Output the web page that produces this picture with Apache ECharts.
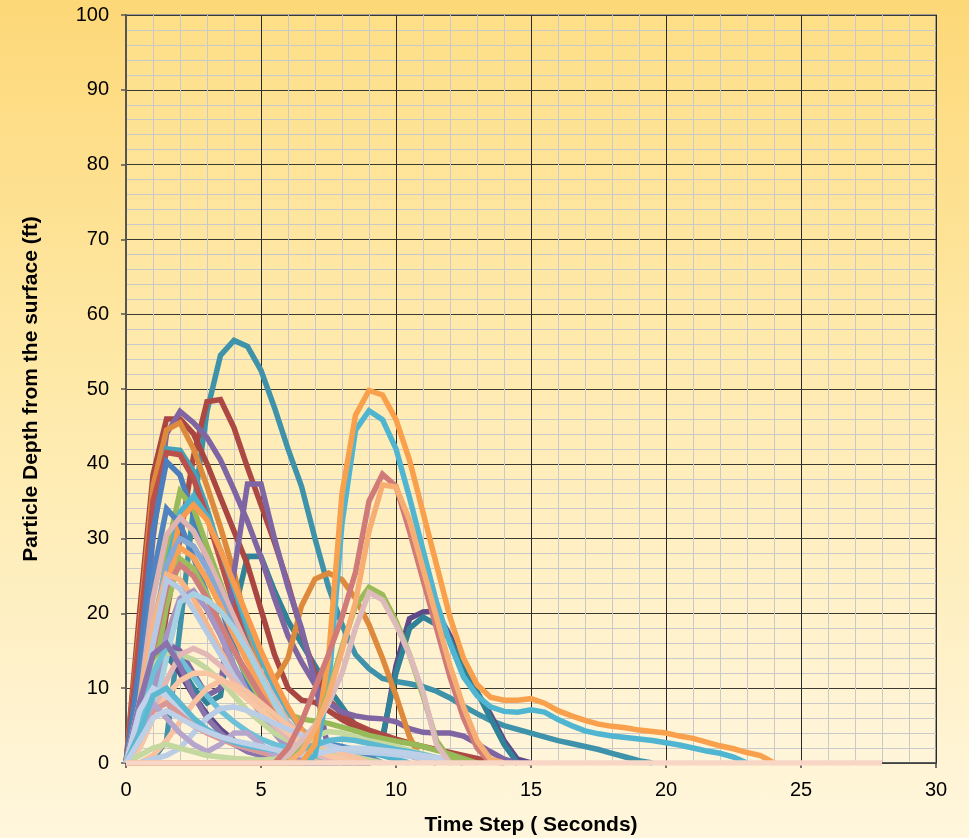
<!DOCTYPE html>
<html>
<head>
<meta charset="utf-8">
<script src="https://cdn.jsdelivr.net/npm/echarts@6/dist/echarts.min.js"></script>
<style>
html,body{margin:0;padding:0;}
#chart{width:969px;height:838px;background:linear-gradient(to bottom,#FDD878 0%,#FEE9A8 45%,#FFF6DD 100%);}
</style>
</head>
<body>
<div id="chart"></div>
<script>
// Time steps (seconds)
const timeSteps = [0,0.5,1,1.5,2,2.5,3,3.5,4,4.5,5,5.5,6,6.5,7,7.5,8,8.5,9,9.5,10,10.5,11,11.5,12,12.5,13,13.5,14,14.5,15,15.5,16,16.5,17,17.5,18,18.5,19,19.5,20,20.5,21,21.5,22,22.5,23,23.5,24,24.5,25,25.5,26,26.5,27,27.5,28];
const xTicks = [0,5,10,15,20,25,30];
const yTicks = [0,10,20,30,40,50,60,70,80,90,100];

// Particle depth series (ft), one value per time step from t = 0
const tealBig   = [0,0,0.5,3,18,34,47,54.5,56.5,55.7,52.5,47.5,42,37,30,23.5,18.5,14.5,12.6,11.3,10.9,10.6,10.2,9.6,8.7,7.6,6.6,5.7,5.0,4.5,4.0,3.5,3.0,2.6,2.2,1.8,1.3,0.8,0.3,0];
const dPurple   = [0,6,12,14.5,12,9,6.5,4.5,3,2,1.2,0.5,0,0,0,0,0,0,0,3,13,19.3,20.2,20.3,17,13,9.5,6.5,3,0.5,0];
const teal2     = [0,5,11,14,13,10,8,9,20,27.6,27.6,23,19,16,13,10,7.5,5,3,3.5,12,18,19.5,18.5,16.5,12.5,9.5,6,2.5,0];
const redB      = [0,3,8,20,30,41,48.3,48.6,44.8,39.5,34.5,29.5,24,17.5,12,8.5,6.5,5.2,4.4,3.8,3.2,2.7,2.2,1.8,1.4,1.0,0.6,0.2,0];
const redA      = [0,20,38.5,46,46,44,40,35.5,31,26.5,20.5,14.5,10,8.4,8.1,7.0,5.8,4.8,4.0,3.0,2.0,1.0,0.4,0];
const purpleA   = [0,12,30,44,47,45.5,43.5,40.5,36.5,32.3,27.5,22,17,13.5,10.5,8,6.8,6.3,6.0,5.9,5.5,4.6,4.1,4.0,4.0,3.6,2.6,1.5,0.5,0];
const orangeD   = [0,18,37,44.5,45.5,42,37,31.5,25.5,18,12,11,14,21,24.6,25.4,24.5,22,18.5,14,9,3.5,0];
const teal42    = [0,14,32,42,41.8,39,34,28,22,16,11,7,4,2,0.5,0];
const redC      = [0,17,35,41.5,41.2,38,33,27,21,15.5,11,7.5,5,3,1.5,0];
const blue40    = [0,13,31,40.3,38.5,33,27,21,15.5,11,7,4,2,0.5,0];
const purpleB   = [0,6,13,16,15,12,9,10,25.5,37.3,37.3,30,23.5,18,11,1.5,0];
const green36   = [0,5,15,28,36.3,34,29,24,19,14.5,10.5,7.5,6.5,5.9,5.6,5.3,4.8,4.3,3.7,3.3,2.9,2.6,2.2,1.7,1.2,0.6,0];
const aqua35    = [0,4,14,26,33.5,35.7,33,28.5,23.5,18.5,14,10,7,4.5,3,2.5,2.2,1.8,1.4,1,0.5,0];
const orange34  = [0,3,12,24,32.5,34.5,32.5,28.5,24,19.5,15,11,7.5,4.5,2,0.5,0];
const blue34    = [0,10,25,34,32,27.5,22.5,17.5,13,9.5,6.5,4.5,3.3,2.8,2.6,2.5,2.2,1.5,0.8,0];
const pink32    = [0,8,22,30.5,32.8,31,27.5,23.5,19.5,15.5,12,8.5,5.5,3.5,2,1,0];
const lblue30   = [0,6,18,26.5,30,29,26,22,18,14,10.5,7.5,5,3,1.5,0.5,0];
const orange29  = [0,4,14,24,28.8,27.5,24.5,21,17,13.5,10,7,4.5,2.5,1,0];
const green27   = [0,3,11,21,27.3,26,22.5,18.5,15,11.5,8.5,6,4,2.5,1.2,0];
const rose27    = [0,5,15,23.5,26.5,25,22,18.5,15,12,9,6.5,4.5,3,1.8,1,0];
const lorange25 = [0,8,18.5,25.2,24.5,22,18.5,15,12,9,6.5,4.5,3,1.8,0.8,0];
const lpurple23 = [0,3,9,17,22,23,20.5,17,13,9.5,6.5,4,2,0.8,0];
const laqua23   = [0,2,6,14,21.5,22.6,21.8,20.3,18,15,11.5,8,5,3,1.5,0.5,0];
const lblue24   = [0,6,16,24.5,23.3,20.5,17.5,14.5,11.5,9,7,5,3.5,2.2,1.2,0.5,0];
const lgreen15  = [0,6,13,14.8,14.5,13.8,12.6,11,9,7,5.5,4,3,2.5,2,1.5,1.2,0.8,0.4,0];
const aqua15    = [0,5,12,15.5,14,11.5,9,7,5.5,4.2,3.2,2.5,2,1.5,1,0.5,0];
const pink15    = [0,2,6,11,14.5,15.3,14.5,13,11,9,7,5,3.5,2.2,1.2,0.5,0];
const purple16  = [0,8,14.5,16,13,9,6,4,2.5,1.5,1,0.5,0];
const peach12   = [0,2,6,9,11,12,12,11.3,10,8.5,7,5.5,4,2.8,1.8,1,0.5,0];
const peach11   = [0,0,1,3,5.5,8,10,11,10.5,9.5,8,6.5,5,3.8,2.8,2,1.3,0.7,0];
const lblue10   = [0,7,10,9,7,5.5,4.5,3.5,2.5,2,1.5,1,0.5,0];
const lblue7    = [0,0,0.5,1,2,4,6,7.3,7.5,7,6.2,5.3,4.5,3.7,3,2.4,1.9,1.5,1.4,1.3,1.1,0.9,0.6,0.3,0];
const roseSmall = [0,3,7,8,6.5,5,4,3.2,2.5,2,1.5,1,0.5,0];
const lpurpleSm = [0,4,8,6,4,2.5,1.5,2.5,4,4,2.5,1,0];
const lgreenBump= [0,1,2,2.5,2,1.5,1,0.8,0.6,0.5,0.4,0.5,1.2,2.5,3.6,4.2,4,3.5,3,2.6,2.2,1.7,1.2,0.7,0.3,0];
const aquaSmall = [0,4,9,10,8,6,4.5,3.5,2.8,2.3,2,1.7,1.6,1.8,2.4,3.0,3.2,3.0,2.6,2.2,1.8,1.5,1.1,0.7,0.3,0];
const lblueFlat = [0,3,6,7,6,5,4.2,3.5,3,2.6,2.2,1.8,1.4,1.1,1.2,1.6,1.9,2.0,1.9,1.7,1.5,1.3,1.0,0.7,0.4,0];
const aqua47    = [0,0,0,0,0,0,0,0,0,0,0,0,0,0,1,10,32,44.5,47.1,45.9,42,35.5,28.5,21.5,16,11.5,9,7.5,6.9,6.8,7.1,6.8,5.8,5.0,4.3,3.9,3.6,3.4,3.2,3.0,2.7,2.4,2.0,1.6,1.3,0.8,0];
const orange50  = [0,0,0,0,0,0,0,0,0,0,0,0,0,0,2.5,14,36,46.5,49.8,49.2,45.9,40.5,33.5,26.5,19.5,14,10.5,8.8,8.4,8.4,8.6,8.0,7.0,6.3,5.7,5.2,4.9,4.7,4.4,4.2,4.0,3.6,3.3,2.8,2.3,1.9,1.4,1.0,0];
const green23   = [0,0,0,0,0,0,0,0,0,0,0,0,0.5,2,4.5,9.5,15.5,21,23.5,22.5,19,14.5,9,3,0.5,0];
const pink23    = [0,0,0,0,0,0,0,0,0,0,0,0,1,3,5,8,12,18,22.8,21.8,18.5,14.5,9.5,2.5,0];
const rose38    = [0,0,0,0,0,0,0,0,0,0,0,0,2,5.5,10,14.5,19.5,25.5,35,38.6,37,31,24.5,18,11.5,6,2,0];
const lorange37 = [0,0,0,0,0,0,0,0,0,0,0,0,0,1.5,4.5,9,15,21.5,31,37.2,36.9,32.5,26,19.5,13,7.5,3,0.5,0];
const peachZero = [0,0,0,0,0,0,0,0,0,0,0,0,0,0,0,0,0,0,0,0,0,0,0,0,0,0,0,0,0,0,0,0,0,0,0,0,0,0,0,0,0,0,0,0,0,0,0,0,0,0,0,0,0,0,0,0,0];

const seriesDefs = [
  ['tealBig', tealBig, '#3E93AA'],
  ['dPurple', dPurple, '#5E4A88'],
  ['teal2', teal2, '#2F8297'],
  ['redB', redB, '#AC4945'],
  ['redA', redA, '#A94641'],
  ['purpleA', purpleA, '#8065A3'],
  ['orangeD', orangeD, '#DD8A3C'],
  ['teal42', teal42, '#45A0B8'],
  ['redC', redC, '#BA4F4B'],
  ['blue40', blue40, '#4A7EBC'],
  ['purpleB', purpleB, '#7E66A5'],
  ['green36', green36, '#97B957'],
  ['aqua35', aqua35, '#4DB2CE'],
  ['orange34', orange34, '#F89B4C'],
  ['blue34', blue34, '#4F84C0'],
  ['pink32', pink32, '#DFB3B2'],
  ['lblue30', lblue30, '#86A8D4'],
  ['orange29', orange29, '#F9A157'],
  ['green27', green27, '#9DBC5E'],
  ['rose27', rose27, '#CF7E7B'],
  ['lorange25', lorange25, '#F8B482'],
  ['lpurple23', lpurple23, '#A796C3'],
  ['laqua23', laqua23, '#A6D1E2'],
  ['lblue24', lblue24, '#B5C9E5'],
  ['lgreen15', lgreen15, '#C3D69E'],
  ['aqua15', aqua15, '#6CC0D8'],
  ['pink15', pink15, '#E3B7B6'],
  ['purple16', purple16, '#8A72AA'],
  ['peach12', peach12, '#F9C6A4'],
  ['peach11', peach11, '#F8C2A0'],
  ['lblue10', lblue10, '#C2D2EA'],
  ['lblue7', lblue7, '#BACDE7'],
  ['roseSmall', roseSmall, '#D99896'],
  ['lpurpleSm', lpurpleSm, '#B7A6CB'],
  ['lgreenBump', lgreenBump, '#C4D89F'],
  ['aquaSmall', aquaSmall, '#5DB8D2'],
  ['lblueFlat', lblueFlat, '#BDD0E8'],
  ['aqua47', aqua47, '#4FB5D1'],
  ['orange50', orange50, '#F9A04C'],
  ['green23', green23, '#9BBB59'],
  ['pink23', pink23, '#DEBBBB'],
  ['rose38', rose38, '#D07B78'],
  ['lorange37', lorange37, '#F7AE72'],
  ['peachZero', peachZero, '#F8D6C6']
];

const chart = echarts.init(document.getElementById('chart'), null, {renderer: 'canvas'});
const font = 'Liberation Sans, Arial, sans-serif';

chart.setOption({
  animation: false,
  backgroundColor: 'transparent',
  grid: {
    left: 126, right: 33, top: 15, bottom: 75,
    outerBoundsMode: 'none',
    containLabel: false,
    show: true,
    borderColor: '#9A9A9A',
    borderWidth: 2,
    backgroundColor: new echarts.graphic.LinearGradient(0, 0, 0, 1, [
      {offset: 0, color: '#FEDF87'},
      {offset: 0.5, color: '#FFEBB2'},
      {offset: 1, color: '#FFF5DA'}
    ])
  },
  xAxis: {
    type: 'value', min: xTicks[0], max: xTicks[xTicks.length - 1], interval: 5,
    name: 'Time Step ( Seconds)', nameLocation: 'middle', nameGap: 52,
    nameTextStyle: {fontFamily: font, fontSize: 21, fontWeight: 'bold', color: '#000'},
    axisLine: {show: true, onZero: false, lineStyle: {color: '#444', width: 1.5}},
    axisTick: {show: true, length: 5, lineStyle: {color: '#444', width: 1.5}},
    minorTick: {show: true, splitNumber: 5, length: 0},
    axisLabel: {fontFamily: font, fontSize: 20, color: '#000', margin: 17},
    splitLine: {show: true, lineStyle: {color: '#2A2A2A', width: 1}},
    minorSplitLine: {show: true, lineStyle: {color: '#C9C9C9', width: 1}}
  },
  yAxis: {
    type: 'value', min: yTicks[0], max: yTicks[yTicks.length - 1], interval: 10,
    name: 'Particle Depth from the surface (ft)', nameLocation: 'middle', nameGap: 84,
    nameTextStyle: {fontFamily: font, fontSize: 21, fontWeight: 'bold', color: '#000'},
    axisLine: {show: true, lineStyle: {color: '#555', width: 2}},
    axisTick: {show: true, length: 5, lineStyle: {color: '#555', width: 1.5}},
    minorTick: {show: true, splitNumber: 5, length: 0},
    axisLabel: {fontFamily: font, fontSize: 20, color: '#000', margin: 17},
    splitLine: {show: true, lineStyle: {color: '#3A3A30', width: 1}},
    minorSplitLine: {show: true, lineStyle: {color: '#C9C9C9', width: 1}}
  },
  series: seriesDefs.map(([name, vals, color]) => ({
    name: name,
    type: 'line',
    data: vals.map((v, i) => [timeSteps[i], v]),
    showSymbol: false,
    symbol: 'none',
    lineStyle: {color: color, width: 5.5, join: 'miter'},
    itemStyle: {color: color},
    emphasis: {disabled: true},
    silent: true
  }))
});
</script>
</body>
</html>
